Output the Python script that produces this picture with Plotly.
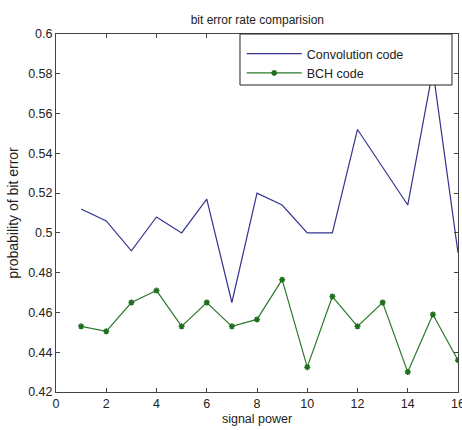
import plotly.graph_objects as go

signal_power = list(range(1, 17))
convolution = [0.512, 0.506, 0.491, 0.508, 0.500, 0.517, 0.465, 0.520,
               0.514, 0.500, 0.500, 0.552, 0.533, 0.514, 0.582, 0.490]
bch = [0.453, 0.4505, 0.465, 0.471, 0.453, 0.465, 0.453, 0.4565,
       0.4765, 0.4325, 0.468, 0.453, 0.465, 0.430, 0.459, 0.436]

x_ticks = list(range(0, 17, 2))
y_ticks = [0.42, 0.44, 0.46, 0.48, 0.5, 0.52, 0.54, 0.56, 0.58, 0.6]
y_ticktext = ["0.42", "0.44", "0.46", "0.48", "0.5", "0.52", "0.54", "0.56", "0.58", "0.6"]

FONT = "Liberation Sans, Arial, sans-serif"

fig = go.Figure()
fig.add_trace(go.Scatter(x=signal_power, y=convolution, mode="lines",
                         name="Convolution code",
                         line=dict(color="#34348f", width=1.2)))
fig.add_trace(go.Scatter(x=signal_power, y=bch, mode="lines+markers",
                         name="BCH code",
                         line=dict(color="#2a7a2a", width=1.2),
                         marker=dict(symbol="asterisk", size=5, color="#1f6f1f",
                                     line=dict(color="#1f6f1f", width=1.5))))

axis_common = dict(showgrid=False, zeroline=False, showline=True, linecolor="#444",
                   linewidth=1, mirror="allticks", ticks="inside", ticklen=4,
                   tickcolor="#444", ticklabeloverflow="allow", automargin=False,
                   tickfont=dict(family=FONT, size=12.5, color="#222"))

fig.update_layout(
    width=462, height=430,
    margin=dict(l=56, r=4, t=34, b=38, autoexpand=False),
    paper_bgcolor="white", plot_bgcolor="white",
    title=dict(text="bit error rate comparision", x=0.557, xanchor="center",
               y=0.955, yanchor="middle",
               font=dict(family=FONT, size=12, color="#222")),
    xaxis=dict(range=[0, 16], tickvals=x_ticks,
               title=dict(text="signal power", standoff=4,
                          font=dict(family=FONT, size=12.5, color="#222")),
               **axis_common),
    yaxis=dict(range=[0.42, 0.6], tickvals=y_ticks, ticktext=y_ticktext,
               title=dict(text="probability of bit error", standoff=6,
                          font=dict(family=FONT, size=14, color="#222")),
               **axis_common),
    legend=dict(x=0.462, y=0.986, xanchor="left", yanchor="top",
                bgcolor="rgba(0,0,0,0)", borderwidth=0,
                font=dict(family=FONT, size=12.5, color="#222"),
                tracegroupgap=0, itemwidth=55),
    showlegend=True,
    shapes=[dict(type="rect", xref="paper", yref="paper",
                 x0=0.4577, x1=0.985, y0=0.8575, y1=1.0,
                 fillcolor="white", line=dict(color="#222", width=1),
                 layer="above")],
)

fig.write_html("out.html", config={"displayModeBar": False},
               post_script="document.body.style.margin='0';")
